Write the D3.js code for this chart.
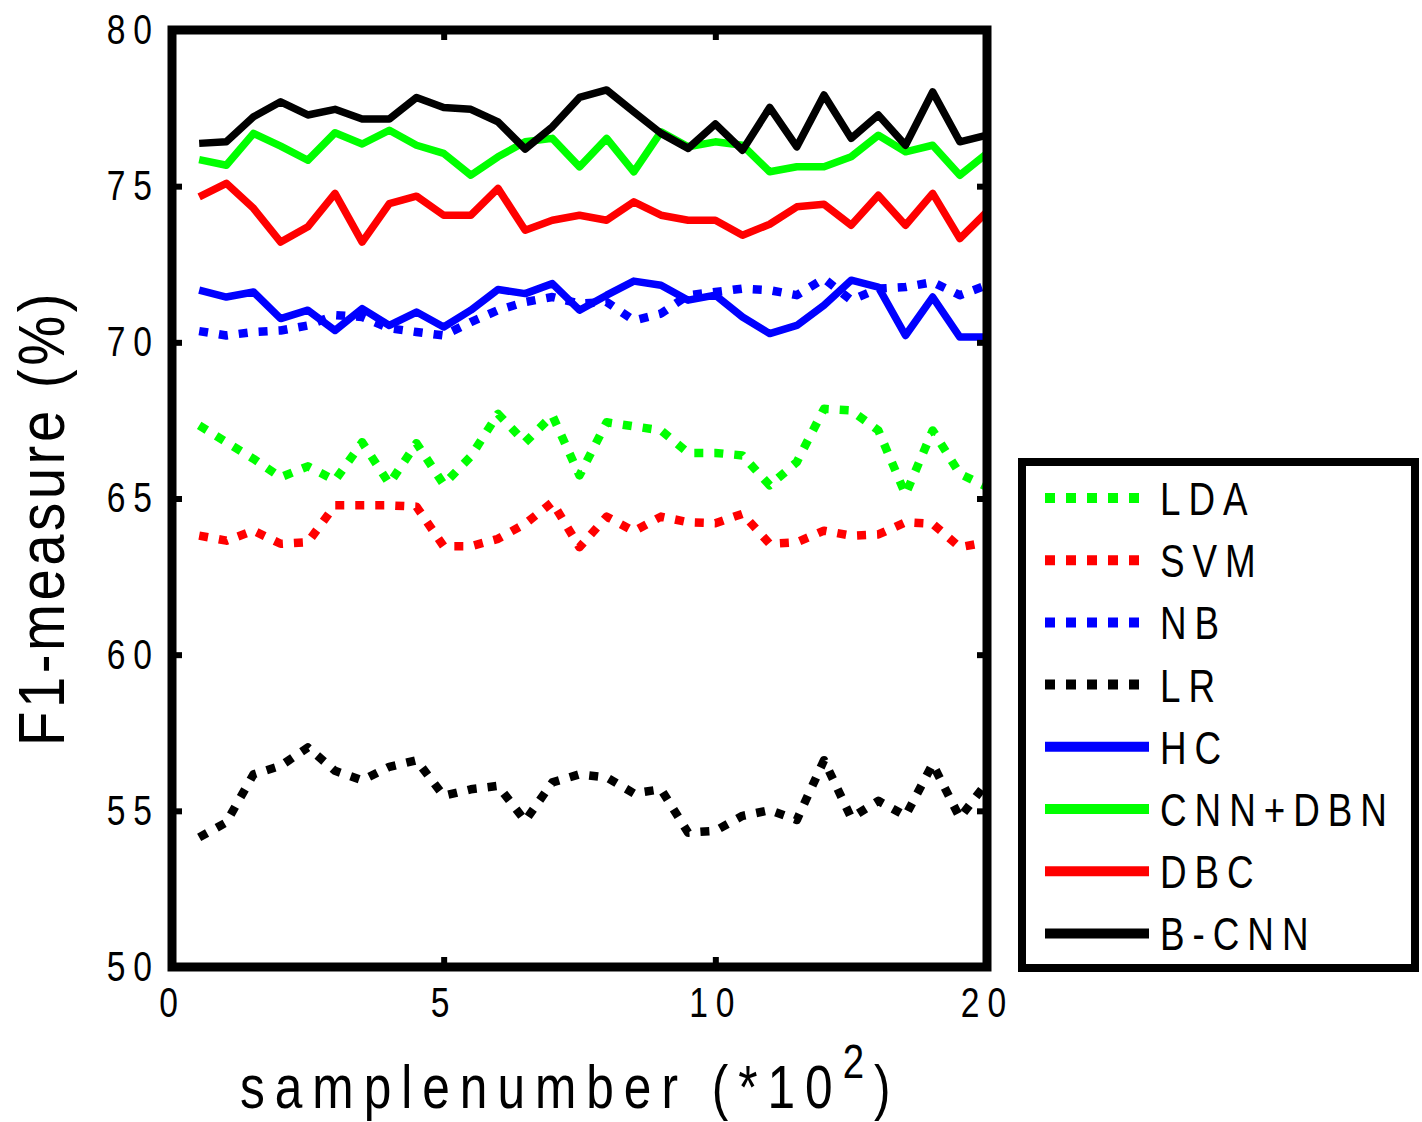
<!DOCTYPE html>
<html>
<head>
<meta charset="utf-8">
<script src="https://cdn.jsdelivr.net/npm/d3@7"></script>
<style>
  body { margin: 0; background: #fff; }
  svg text { font-family: "Liberation Sans", Arial, sans-serif; fill: #000; }
</style>
</head>
<body>
<div id="chart"></div>
<script>
// sample positions (x axis, *10^2)
var samples = [0.5, 1, 1.5, 2, 2.5, 3, 3.5, 4, 4.5, 5, 5.5, 6, 6.5, 7, 7.5,
               8, 8.5, 9, 9.5, 10, 10.5, 11, 11.5, 12, 12.5, 13, 13.5, 14, 14.5, 15];

var lda = [67.34, 66.80, 66.27, 65.68, 66.03, 65.58, 66.80, 65.47, 66.77, 65.45, 66.35, 67.71, 66.80, 67.66, 65.74,
           67.44, 67.31, 67.18, 66.46, 66.46, 66.38, 65.42, 66.17, 67.87, 67.82, 67.18, 65.13, 67.18, 65.79, 65.37];
var svm = [63.81, 63.65, 63.97, 63.55, 63.60, 64.78, 64.78, 64.78, 64.74, 63.47, 63.47, 63.71, 64.19, 64.88, 63.44,
           64.42, 63.95, 64.42, 64.24, 64.21, 64.51, 63.55, 63.60, 63.97, 63.81, 63.85, 64.24, 64.19, 63.44, 63.60];
var nb  = [70.36, 70.22, 70.33, 70.38, 70.54, 70.87, 70.81, 70.45, 70.33, 70.22, 70.65, 71.03, 71.29, 71.45, 71.24,
           71.29, 70.70, 70.92, 71.51, 71.61, 71.72, 71.67, 71.51, 72.04, 71.35, 71.72, 71.77, 71.93, 71.51, 71.83];
var lr  = [54.15, 54.63, 56.17, 56.44, 57.03, 56.28, 55.98, 56.41, 56.62, 55.48, 55.69, 55.80, 54.68, 55.91, 56.17,
           56.07, 55.56, 55.69, 54.30, 54.36, 54.84, 55.02, 54.71, 56.62, 54.78, 55.32, 54.84, 56.50, 54.78, 55.91];
var hc  = [71.67, 71.45, 71.61, 70.76, 71.03, 70.38, 71.08, 70.54, 70.97, 70.49, 71.03, 71.69, 71.56, 71.88, 71.03,
           71.51, 71.96, 71.83, 71.35, 71.51, 70.81, 70.28, 70.54, 71.19, 71.99, 71.77, 70.22, 71.45, 70.17, 70.17];
var cnnDbn = [75.85, 75.67, 76.69, 76.28, 75.83, 76.71, 76.35, 76.79, 76.31, 76.05, 75.35, 75.94, 76.42, 76.53, 75.62,
              76.53, 75.46, 76.74, 76.26, 76.42, 76.31, 75.46, 75.62, 75.62, 75.94, 76.63, 76.10, 76.31, 75.35, 76.05];
var dbc = [74.66, 75.09, 74.29, 73.21, 73.70, 74.77, 73.21, 74.44, 74.68, 74.07, 74.07, 74.93, 73.59, 73.91, 74.07,
           73.91, 74.50, 74.07, 73.91, 73.91, 73.43, 73.78, 74.34, 74.42, 73.75, 74.71, 73.75, 74.77, 73.32, 74.18];
var bCnn = [76.37, 76.42, 77.22, 77.70, 77.28, 77.46, 77.15, 77.15, 77.84, 77.52, 77.46, 77.06, 76.19, 76.90, 77.84,
            78.08, 77.38, 76.69, 76.21, 76.99, 76.15, 77.52, 76.26, 77.92, 76.53, 77.28, 76.31, 78.02, 76.42, 76.63];

var seriesNames = ["LDA", "SVM", "NB", "LR", "HC", "CNN+DBN", "DBC", "B-CNN"];
var seriesValues = [lda, svm, nb, lr, hc, cnnDbn, dbc, bCnn];
var seriesColors = ["#00ff00", "#ff0000", "#0000ff", "#000000", "#0000ff", "#00ff00", "#ff0000", "#000000"];
var seriesDotted = [true, true, true, true, false, false, false, false];

var xTicks = [0, 5, 10, 15];
var xTickLabels = ["0", "5", "10", "20"];
var yTicks = [50, 55, 60, 65, 70, 75, 80];

var w = 1422, h = 1122;
var pLeft = 172, pRight = 987, pTop = 30, pBottom = 967;
var squeeze = 0.8;   // text in the figure is horizontally condensed

var svg = d3.select("#chart").append("svg")
    .attr("width", w)
    .attr("height", h);

var xScale = d3.scaleLinear().domain([0, 15]).range([pLeft, pRight]);
var yScale = d3.scaleLinear().domain([50, 80]).range([pBottom, pTop]);

// lines
var line = d3.line()
    .x(function(d, i) { return xScale(samples[i]); })
    .y(function(d) { return yScale(d); });

svg.append("clipPath").attr("id", "plotclip")
    .append("rect")
    .attr("x", pLeft).attr("y", pTop)
    .attr("width", pRight - pLeft).attr("height", pBottom - pTop);

svg.append("g")
    .attr("clip-path", "url(#plotclip)")
    .selectAll("path")
    .data(seriesValues)
    .enter()
    .append("path")
        .attr("d", function(d) { return line(d); })
        .attr("fill", "none")
        .attr("stroke", function(d, i) { return seriesColors[i]; })
        .attr("stroke-width", function(d, i) { return seriesDotted[i] ? 8.5 : 7.5; })
        .attr("stroke-dasharray", function(d, i) { return seriesDotted[i] ? "9,11" : null; })
        .attr("stroke-linejoin", "round");

// axes (labels + inward ticks)
var tickStyle = function(g) {
    g.select(".domain").remove();
    g.selectAll(".tick line").attr("stroke", "#000").attr("stroke-width", 6);
    g.selectAll(".tick text")
        .attr("font-size", 42)
        .attr("letter-spacing", 10)
        .attr("transform", "scale(" + squeeze + ",1)")
        .attr("x", function() { return (+d3.select(this).attr("x") || 0) / squeeze; });
};

svg.append("g")
    .attr("transform", "translate(" + pLeft + ",0)")
    .call(d3.axisLeft(yScale).tickValues(yTicks).tickSizeInner(-10).tickSizeOuter(0).tickPadding(12))
    .call(tickStyle);

svg.append("g")
    .attr("transform", "translate(" + pRight + ",0)")
    .call(d3.axisRight(yScale).tickValues(yTicks).tickSizeInner(-10).tickSizeOuter(0).tickFormat(""))
    .call(tickStyle);

svg.append("g")
    .attr("transform", "translate(0," + pBottom + ")")
    .call(d3.axisBottom(xScale).tickValues(xTicks).tickSizeInner(-10).tickSizeOuter(0).tickPadding(20)
        .tickFormat(function(d, i) { return xTickLabels[i]; }))
    .call(tickStyle);

svg.append("g")
    .attr("transform", "translate(0," + pTop + ")")
    .call(d3.axisTop(xScale).tickValues(xTicks).tickSizeInner(-10).tickSizeOuter(0).tickFormat(""))
    .call(tickStyle);

// frame
svg.append("rect")
    .attr("x", pLeft).attr("y", pTop)
    .attr("width", pRight - pLeft).attr("height", pBottom - pTop)
    .attr("fill", "none")
    .attr("stroke", "#000")
    .attr("stroke-width", 9);

// axis titles
svg.append("text")
    .attr("transform", "translate(64,518) rotate(-90) scale(0.88,1)")
    .attr("text-anchor", "middle")
    .attr("font-size", 64)
    .attr("letter-spacing", 4)
    .text("F1-measure (%)");

var xt = svg.append("text")
    .attr("transform", "translate(240,1108) scale(" + squeeze + ",1)")
    .attr("font-size", 62)
    .attr("letter-spacing", 12.5);
xt.append("tspan").text("samplenumber (*10");
xt.append("tspan").attr("dy", -30).attr("font-size", 48).text("2");
xt.append("tspan").attr("dy", 30).text(")");

// legend
var lg = svg.append("g");
lg.append("rect")
    .attr("x", 1022).attr("y", 462)
    .attr("width", 393).attr("height", 506)
    .attr("fill", "#fff")
    .attr("stroke", "#000")
    .attr("stroke-width", 8);

var entry = lg.selectAll("g.entry")
    .data(seriesNames)
    .enter()
    .append("g")
        .attr("class", "entry")
        .attr("transform", function(d, i) { return "translate(0," + (498 + i * 62.2) + ")"; });

entry.append("line")
    .attr("x1", 1045)
    .attr("x2", function(d, i) { return seriesDotted[i] ? 1139 : 1149; })
    .attr("y1", 0).attr("y2", 0)
    .attr("stroke", function(d, i) { return seriesColors[i]; })
    .attr("stroke-width", 10)
    .attr("stroke-dasharray", function(d, i) { return seriesDotted[i] ? "10,11" : null; });

entry.append("text")
    .attr("transform", "translate(1160,17) scale(" + squeeze + ",1)")
    .attr("font-size", 46)
    .attr("letter-spacing", 10)
    .text(function(d) { return d; });
</script>
</body>
</html>
